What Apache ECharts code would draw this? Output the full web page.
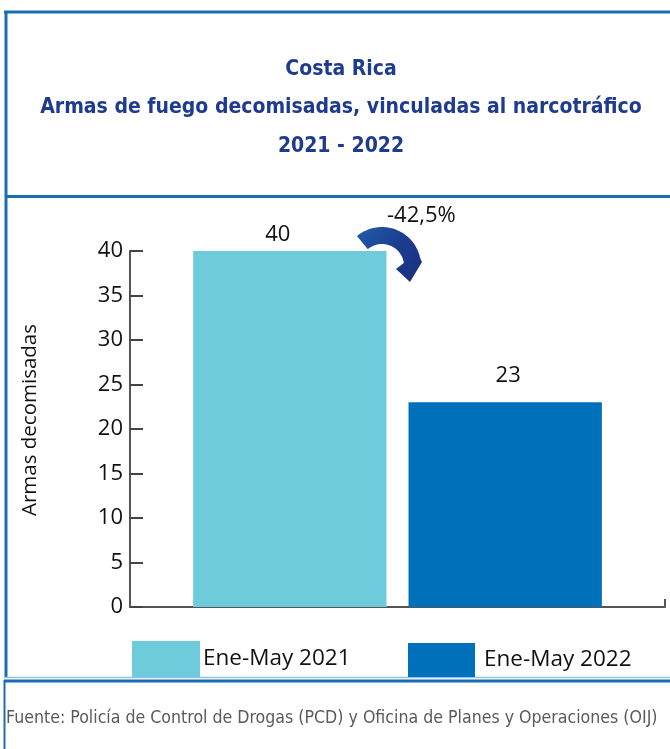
<!DOCTYPE html>
<html><head><meta charset="utf-8">
<script src="https://cdn.jsdelivr.net/npm/echarts@6/dist/echarts.min.js"></script>
<style>html,body{margin:0;padding:0;background:#fff}#c{width:670px;height:749px}</style>
</head><body><div id="c"></div>
<script>
const categories = ['Armas'];
const seriesNames = ['Ene-May 2021', 'Ene-May 2022'];
const values2021 = [40];
const values2022 = [23];
const yTicks = [0, 5, 10, 15, 20, 25, 30, 35, 40];
const titleLines = ['Costa Rica', 'Armas de fuego decomisadas, vinculadas al narcotráfico', '2021 - 2022'];
const changeLabel = '-42,5%';
const yAxisName = 'Armas decomisadas';
const sourceText = 'Fuente: Policía de Control de Drogas (PCD) y Oficina de Planes y Operaciones (OIJ)';

const chart = echarts.init(document.getElementById('c'), null, {renderer: 'canvas'});
const BORDER = '#1a6db0';
const baseFont = '"Open Sans", "Noto Sans", sans-serif';
const narrowFont = '"Liberation Sans Narrow", "DejaVu Sans Condensed", sans-serif';

// curved arrow (annotation) built as a polygon
function arrowPoints() {
  const cx = 382, cy = 266, rOut = 39, rIn = 22;
  const d = Math.PI / 180;
  const pts = [];
  const n = 28;
  const a0 = -130 * d, a1 = -12 * d, b1 = -8 * d;
  for (let i = 0; i <= n; i++) {
    const a = a0 + (a1 - a0) * i / n;
    pts.push([cx + rOut * Math.cos(a), cy + rOut * Math.sin(a)]);
  }
  pts.push([cx + 40, cy - 4]);
  pts.push([cx + 28, cy + 16]);
  pts.push([cx + 14, cy + 3]);
  for (let i = n; i >= 0; i--) {
    const a = a0 + (b1 - a0) * i / n;
    pts.push([cx + rIn * Math.cos(a), cy + rIn * Math.sin(a)]);
  }
  return pts;
}

const option = {
  animation: false,
  backgroundColor: '#fff',
  title: {
    text: titleLines.join('\n'),
    left: 336, top: 45, textAlign: 'center',
    textStyle: {fontFamily: narrowFont, fontWeight: 'bold', fontSize: 21, lineHeight: 38.5, color: '#1f3b8f'}
  },
  legend: [
    {data: [seriesNames[0]], left: 132, top: 641, padding: 0, itemWidth: 68, itemHeight: 36, icon: 'rect', itemGap: 0,
     textStyle: {fontFamily: baseFont, fontSize: 22.5, color: '#111', padding: [6, 0, 0, -2]}},
    {data: [seriesNames[1]], left: 408, top: 643, padding: 0, itemWidth: 67, itemHeight: 34, icon: 'rect', itemGap: 0,
     textStyle: {fontFamily: baseFont, fontSize: 22.5, color: '#111', padding: [4, 0, 0, 4]}}
  ],
  grid: {left: 130, right: 5, top: 251, bottom: 142, containLabel: false},
  xAxis: {
    type: 'category', data: categories,
    axisLine: {lineStyle: {color: '#555', width: 2}},
    axisTick: {show: true, inside: true, length: 8, lineStyle: {color: '#555', width: 2}},
    axisLabel: {show: false}
  },
  yAxis: {
    type: 'value', min: yTicks[0], max: yTicks[yTicks.length - 1], interval: yTicks[1] - yTicks[0],
    axisLine: {show: true, lineStyle: {color: '#555', width: 2}},
    axisTick: {show: true, inside: true, length: 13, lineStyle: {color: '#444', width: 2}},
    axisLabel: {fontFamily: baseFont, fontSize: 22, color: '#111', margin: 7},
    splitLine: {show: false}
  },
  series: [
    {name: seriesNames[0], type: 'bar', data: values2021, itemStyle: {color: '#6dcbdc'},
     barGap: '11.4%', barCategoryGap: '23.6%',
     label: {show: true, position: 'top', distance: 5, offset: [-12, 0], fontFamily: baseFont, fontSize: 22, color: '#111'}},
    {name: seriesNames[1], type: 'bar', data: values2022, itemStyle: {color: '#0070bb'},
     barGap: '11.4%', barCategoryGap: '23.6%',
     label: {show: true, position: 'top', distance: 16, offset: [3, 0], fontFamily: baseFont, fontSize: 22, color: '#111'}}
  ],
  graphic: [
    {type: 'line', shape: {x1: 4, y1: 12, x2: 670, y2: 12}, style: {stroke: BORDER, lineWidth: 3}},
    {type: 'line', shape: {x1: 6, y1: 11, x2: 6, y2: 678}, style: {stroke: BORDER, lineWidth: 3}},
    {type: 'line', shape: {x1: 6, y1: 196.5, x2: 670, y2: 196.5}, style: {stroke: BORDER, lineWidth: 3}},
    {type: 'line', shape: {x1: 4, y1: 677.5, x2: 670, y2: 677.5}, style: {stroke: '#8fc0e6', lineWidth: 1.5}},
    {type: 'line', shape: {x1: 4, y1: 681, x2: 670, y2: 681}, style: {stroke: BORDER, lineWidth: 3}},
    {type: 'line', shape: {x1: 4.5, y1: 680, x2: 4.5, y2: 749}, style: {stroke: BORDER, lineWidth: 2}},
    {type: 'text', x: 30, y: 420, rotation: Math.PI / 2,
     style: {text: yAxisName, font: '20.5px ' + baseFont, fill: '#111', textAlign: 'center', textVerticalAlign: 'middle'}},
    {type: 'text', x: 6, y: 718, style: {text: sourceText, font: '17.6px ' + narrowFont, fill: '#5a5a5a', textVerticalAlign: 'middle'}},
    {type: 'text', x: 387, y: 216, style: {text: changeLabel, font: '22px ' + baseFont, fill: '#111', textVerticalAlign: 'middle'}},
    {type: 'polygon', shape: {points: arrowPoints()},
     style: {fill: new echarts.graphic.LinearGradient(0, 0, 1, 1, [{offset: 0, color: '#1f5eaa'}, {offset: 0.5, color: '#1b3d8f'}, {offset: 1, color: '#1c2f80'}])}}
  ]
};
chart.setOption(option);
</script></body></html>
